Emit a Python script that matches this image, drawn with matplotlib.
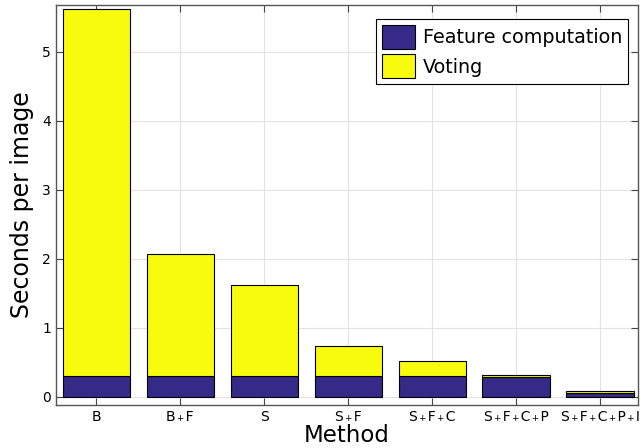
import matplotlib
matplotlib.use("Agg")
import matplotlib.pyplot as plt
import numpy as np

methods = ["B", "B+F", "S", "S+F", "S+F+C", "S+F+C+P", "S+F+C+P+I"]
feature = [0.30, 0.30, 0.30, 0.30, 0.30, 0.29, 0.055]
voting = [5.32, 1.77, 1.32, 0.44, 0.22, 0.025, 0.025]

blue = "#352a87"
yellow = "#f9fb0e"

fig = plt.figure(figsize=(6.41, 4.48), dpi=100)
ax = fig.add_axes([0.0874, 0.096, 0.9076, 0.893])
x = np.arange(len(methods))
ax.bar(x, feature, width=0.8, color=blue, edgecolor="black", linewidth=0.8,
       label="Feature computation", zorder=3)
ax.bar(x, voting, bottom=feature, width=0.8, color=yellow, edgecolor="black",
       linewidth=0.8, label="Voting", zorder=3)

ax.set_xlim(-0.48, 6.45)
ax.set_ylim(-0.12, 5.68)
ax.set_xticks(x)
ax.set_xticklabels([m.replace("+", "\u200a\u208a\u200a") for m in methods], fontsize=10)
ax.set_yticks([0, 1, 2, 3, 4, 5])
ax.tick_params(axis="y", labelsize=10)
ax.tick_params(direction="in", top=True, right=True, length=5, color="#444444")
ax.grid(True, color="#e3e3e3", linewidth=0.8, zorder=0)
for s in ax.spines.values():
    s.set_color("#555555")
    s.set_linewidth(1.0)
ax.set_ylabel("Seconds per image", fontsize=17, labelpad=6)
ax.set_xlabel("Method", fontsize=16.5, labelpad=0)
leg = ax.legend(loc="upper right", bbox_to_anchor=(0.983, 0.965), fontsize=13.8,
                fancybox=False, edgecolor="black", framealpha=1,
                handlelength=1.75, handleheight=1.55, borderpad=0.3,
                labelspacing=0.3, handletextpad=0.4, borderaxespad=0.0)
leg.get_frame().set_linewidth(0.8)
fig.savefig("out.png", dpi=100)
